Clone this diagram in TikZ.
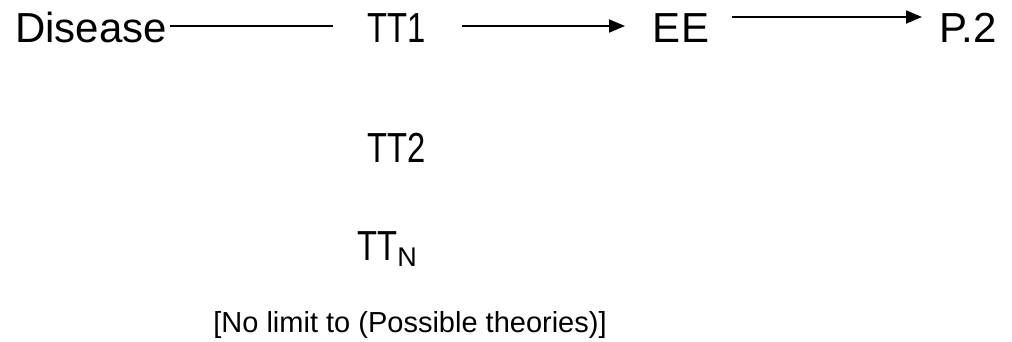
\documentclass[tikz,border=0pt]{standalone}
\usepackage{fontspec}
\setmainfont{Liberation Sans}
\usetikzlibrary{arrows.meta}
\newcommand{\narrowtt}[1]{\scalebox{0.78}[1]{#1}}
\begin{document}
\begin{tikzpicture}[x=1pt,y=-1pt,
  lbl/.style={inner sep=0pt,anchor=base,font=\fontsize{42}{46}\selectfont},
  small/.style={inner sep=0pt,anchor=base,font=\fontsize{29}{33}\selectfont},
  conn/.style={line width=1.8pt},
  arr/.style={line width=1.8pt,-{Triangle[length=16pt,width=13pt]}}]
\useasboundingbox (0,0) rectangle (1012,341);
\node[lbl] (dis) at (91,42) {Disease};
\node[lbl] (tt1) at (397,42) {\narrowtt{TT1}};
\node[lbl] (ee) at (681,42) {EE};
\node[lbl] (p2) at (968,42) {P.2};
\node[lbl] (tt2) at (397,162) {\narrowtt{TT2}};
\node[lbl] (ttn) at (387,260) {\narrowtt{TT}\raisebox{-6pt}{\fontsize{27}{30}\selectfont N}};
\node[small] (lim) at (410,332) {[No limit to (Possible theories)]};
\coordinate (a1) at (170,26);
\coordinate (a2) at (333,26);
\draw[conn] (a1) -- (a2);
\coordinate (b1) at (462,26);
\coordinate (b2) at (625,26);
\draw[arr] (b1) -- (b2);
\coordinate (c1) at (732,17);
\coordinate (c2) at (922,17);
\draw[arr] (c1) -- (c2);
\end{tikzpicture}
\end{document}
